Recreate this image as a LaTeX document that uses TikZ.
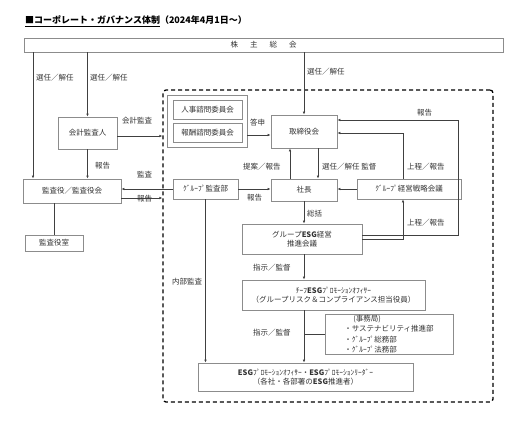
\documentclass[tikz,border=0pt]{standalone}
\usepackage{fontspec}
\setmainfont{Noto Sans CJK JP}
\usetikzlibrary{arrows.meta}
\definecolor{boxgray}{HTML}{8C8C8C}
\definecolor{linegray}{HTML}{404040}
\definecolor{txtgray}{HTML}{333333}

\begin{document}
\begin{tikzpicture}[x=1pt,y=-1pt,
  font=\fontsize{7.5pt}{9pt}\selectfont,
  every node/.style={text=txtgray},
  box/.style={draw=boxgray,line width=0.8pt,inner sep=0pt,align=center},
  lbl/.style={anchor=west,inner sep=0pt},
  arr/.style={draw=linegray,line width=0.6pt,-{Latex[length=3pt,width=2.6pt]}},
  ln/.style={draw=linegray,line width=0.6pt}]
\useasboundingbox (0,0) rectangle (507,424);
\fill[white] (0,0) rectangle (507,424);

\node[anchor=west,inner sep=0pt,text=black,font=\fontsize{9pt}{11pt}\selectfont\bfseries] (title) at (25,21)
  {\underline{■コーポレート・ガバナンス体制}（2024年4月1日～）};

\node[box,minimum width=479pt,minimum height=14pt] (soukai) at (263.5,45)
  {株\hspace{12pt}主\hspace{12pt}総\hspace{12pt}会};
\node[draw=black,line width=1.3pt,dash pattern=on 4pt off 3pt,rounded corners=3pt,
  minimum width=330pt,minimum height=312pt] (grp) at (328,246) {};

\node[box,minimum width=59pt,minimum height=32pt] (kaikei) at (87.5,133) {会計監査人};
\node[box,minimum width=98pt,minimum height=24pt] (kansayaku) at (72,191) {監査役／監査役会};
\node[box,minimum width=58pt,minimum height=16pt] (kansashitsu) at (54,243) {監査役室};

\node[box,minimum width=80pt,minimum height=52pt] (iinkai) at (207,121) {};
\node[box,minimum width=69pt,minimum height=19pt] (jinji) at (207.5,109.5) {人事諮問委員会};
\node[box,minimum width=69pt,minimum height=19pt] (houshu) at (207.5,132.5) {報酬諮問委員会};

\node[box,minimum width=66pt,minimum height=33pt] (torishimari) at (304,131.5) {取締役会};
\node[box,minimum width=66pt,minimum height=22pt] (shacho) at (304,190) {社長};
\node[box,minimum width=65pt,minimum height=20pt] (gkansa) at (205.5,189) {ｸﾞﾙｰﾌﾟ監査部};
\node[box,minimum width=104pt,minimum height=20pt] (senryaku) at (409,189) {ｸﾞﾙｰﾌﾟ経営戦略会議};
\node[box,minimum width=120pt,minimum height=30pt] (esgkaigi) at (302,239)
  {グループ\textbf{ESG}経営\\推進会議};
\node[box,minimum width=183pt,minimum height=30pt] (chief) at (333.5,295)
  {ﾁｰﾌ\textbf{ESG}ﾌﾟﾛﾓｰｼｮﾝｵﾌｨｻｰ\\（グループリスク＆コンプライアンス担当役員）};
\node[box,minimum width=128pt,minimum height=40pt,align=left,
  font=\fontsize{7.5pt}{10.5pt}\selectfont] (jimu) at (389,334)
  {\hspace*{9pt}(事務局)\\・サステナビリティ推進部\\・ｸﾞﾙｰﾌﾟ総務部\\・ｸﾞﾙｰﾌﾟ法務部};
\node[box,minimum width=215pt,minimum height=28pt] (leaders) at (305.5,377)
  {\textbf{ESG}ﾌﾟﾛﾓｰｼｮﾝｵﾌｨｻｰ・\textbf{ESG}ﾌﾟﾛﾓｰｼｮﾝﾘｰﾀﾞｰ\\（各社・各部署の\textbf{ESG}推進者）};

\draw[arr] (33,0 |- soukai.south) -- (33,0 |- kansayaku.north);
\draw[arr] (kaikei.north |- soukai.south) -- (kaikei.north);
\draw[arr] (kaikei.south) -- (kaikei.south |- kansayaku.north);
\draw[ln] (kansashitsu.north |- kansayaku.south) -- (kansashitsu.north);
\draw[arr] ([yshift=-3pt]kaikei.east) -- ([yshift=-3pt]kaikei.east -| grp.west);
\draw[arr] ([yshift=-7pt]kansayaku.east) -- ([yshift=-7pt]kansayaku.east -| grp.west);
\draw[arr] (gkansa.west) -- (gkansa.west -| kansayaku.east);
\draw[arr] (iinkai.east |- 0,135) -- (torishimari.west |- 0,135);
\draw[arr] (torishimari.north |- soukai.south) -- (torishimari.north);
\draw[arr] ([xshift=-14pt]shacho.north) -- ([xshift=-14pt]torishimari.south);
\draw[arr] ([xshift=14pt]torishimari.south) -- ([xshift=14pt]shacho.north);
\draw[arr] (gkansa.east) -- (gkansa.east -| shacho.west);
\draw[arr] (senryaku.west) -- (senryaku.west -| shacho.east);
\draw[arr] ([xshift=-6pt]senryaku.north) |- ([yshift=-1.5pt]torishimari.east);
\draw[arr] (esgkaigi.east) -| ([xshift=-6pt]senryaku.south);
\coordinate (rt) at (458,120);
\draw[arr] ([yshift=4pt]esgkaigi.east) -| (rt) -- (rt -| torishimari.east);
\draw[arr] (shacho.south) -- (shacho.south |- esgkaigi.north);
\draw[arr] (shacho.south |- esgkaigi.south) -- (shacho.south |- chief.north);
\draw[arr] (shacho.south |- chief.south) -- (shacho.south |- leaders.north);
\draw[ln] (jimu.west -| shacho.south) -- (jimu.west);
\draw[arr] (gkansa.south) -- (gkansa.south |- leaders.north);

\node[lbl] (l1) at (36,78) {選任／解任};
\node[lbl] (l2) at (90,78) {選任／解任};
\node[lbl] (l3) at (122,121) {会計監査};
\node[lbl] (l4) at (95,166) {報告};
\node[lbl] (l5) at (137,175) {監査};
\node[lbl] (l6) at (137,199) {報告};
\node[lbl] (l7) at (250,123) {答申};
\node[lbl] (l8) at (307,72) {選任／解任};
\node[lbl] (l9) at (417,113) {報告};
\node[lbl] (l10) at (243,167) {提案／報告};
\node[lbl] (l11) at (322,167) {選任／解任 監督};
\node[lbl] (l12) at (407,167) {上程／報告};
\node[lbl] (l13) at (247,198) {報告};
\node[lbl] (l14) at (307,214) {総括};
\node[lbl] (l15) at (407,223) {上程／報告};
\node[lbl] (l16) at (253,268) {指示／監督};
\node[lbl] (l17) at (172,282) {内部監査};
\node[lbl] (l18) at (253,333) {指示／監督};
\end{tikzpicture}
\end{document}
